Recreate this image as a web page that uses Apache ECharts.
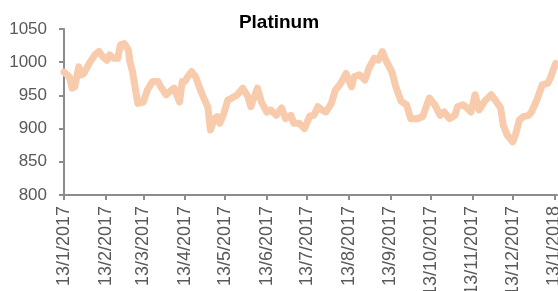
<!DOCTYPE html>
<html>
<head>
<meta charset="utf-8">
<script src="https://cdn.jsdelivr.net/npm/echarts@6/dist/echarts.min.js"></script>
<style>
  html, body { margin: 0; padding: 0; background: #fff; }
  #chart { width: 558px; height: 291px; }
</style>
</head>
<body>
<div id="chart"></div>
<script>
// daily points
var dates = [
  '2017-01-13', '2017-01-17', '2017-01-19', '2017-01-21', '2017-01-24', '2017-01-26', '2017-01-28',
  '2017-02-01', '2017-02-05', '2017-02-08', '2017-02-11', '2017-02-14', '2017-02-16', '2017-02-19',
  '2017-02-22', '2017-02-24', '2017-02-27', '2017-03-02', '2017-03-03', '2017-03-05', '2017-03-07',
  '2017-03-09', '2017-03-13', '2017-03-16', '2017-03-20', '2017-03-24', '2017-03-26', '2017-03-30',
  '2017-04-03', '2017-04-05', '2017-04-09', '2017-04-11', '2017-04-13', '2017-04-15', '2017-04-18',
  '2017-04-21', '2017-04-24', '2017-04-27', '2017-04-30', '2017-05-02', '2017-05-05', '2017-05-07',
  '2017-05-09', '2017-05-12', '2017-05-15', '2017-05-18', '2017-05-22', '2017-05-26', '2017-05-30',
  '2017-06-01', '2017-06-06', '2017-06-09', '2017-06-13', '2017-06-16', '2017-06-20', '2017-06-24',
  '2017-06-27', '2017-07-01', '2017-07-03', '2017-07-07', '2017-07-11', '2017-07-15', '2017-07-18',
  '2017-07-21', '2017-07-24', '2017-07-27', '2017-07-31', '2017-08-03', '2017-08-07', '2017-08-11',
  '2017-08-15', '2017-08-17', '2017-08-21', '2017-08-25', '2017-08-28', '2017-09-01', '2017-09-04',
  '2017-09-07', '2017-09-10', '2017-09-14', '2017-09-17', '2017-09-21', '2017-09-25', '2017-09-28',
  '2017-10-03', '2017-10-07', '2017-10-11', '2017-10-12', '2017-10-16', '2017-10-20', '2017-10-23',
  '2017-10-27', '2017-10-31', '2017-11-02', '2017-11-06', '2017-11-09', '2017-11-12', '2017-11-15',
  '2017-11-18', '2017-11-22', '2017-11-27', '2017-11-30', '2017-12-04', '2017-12-06', '2017-12-09',
  '2017-12-13', '2017-12-15', '2017-12-18', '2017-12-21', '2017-12-25', '2017-12-27', '2017-12-31',
  '2018-01-04', '2018-01-08', '2018-01-10', '2018-01-13', '2018-01-14'
];
var prices = [
  985, 978, 961, 963, 993, 981, 984,
  999, 1011, 1016, 1008, 1003, 1011, 1006,
  1006, 1026, 1028, 1018, 1001, 986, 961,
  938, 940, 958, 971, 971, 963, 951,
  958, 961, 940, 971, 971, 978, 986,
  978, 961, 946, 933, 898, 915, 918,
  908, 923, 943, 946, 951, 961, 948,
  933, 961, 940, 925, 928, 920, 931,
  915, 920, 908, 908, 900, 919, 920,
  933, 928, 925, 938, 958, 968, 983,
  963, 978, 981, 973, 991, 1006, 1003,
  1016, 1001, 986, 963, 941, 936, 915,
  915, 918, 941, 946, 936, 920, 925,
  915, 920, 933, 936, 931, 925, 951,
  928, 941, 951, 943, 931, 905, 890,
  880, 890, 913, 918, 920, 925, 943,
  966, 968, 976, 993, 998
];
var tickDates = [
  '2017-01-13', '2017-02-13', '2017-03-13', '2017-04-13', '2017-05-13', '2017-06-13', '2017-07-13',
  '2017-08-13', '2017-09-13', '2017-10-13', '2017-11-13', '2017-12-13', '2018-01-13'
];

function toTime(s) {
  var p = s.split('-');
  return new Date(+p[0], +p[1] - 1, +p[2]).getTime();
}

var tickTimes = tickDates.map(toTime);
var seriesData = dates.map(function (d, i) { return [toTime(d), prices[i]]; });

var chart = echarts.init(document.getElementById('chart'));

var option = {
  animation: false,
  title: {
    text: 'Platinum',
    left: 'center',
    top: 8,
    textStyle: { fontFamily: 'Liberation Sans', fontSize: 19, fontWeight: 'bold', color: '#000' }
  },
  grid: { left: 64, right: 1, top: 29, bottom: 96, containLabel: false, outerBoundsMode: 'none' },
  xAxis: {
    type: 'value',
    min: toTime('2017-01-13'),
    max: toTime('2018-01-15'),
    axisLine: { lineStyle: { color: '#8c8c8c', width: 2 } },
    axisTick: { show: true, length: 5, customValues: tickTimes, lineStyle: { color: '#8c8c8c', width: 2 } },
    axisLabel: {
      customValues: tickTimes,
      rotate: 90,
      margin: 11,
      hideOverlap: false,
      color: '#595959',
      fontFamily: 'Liberation Sans',
      fontSize: 18,
      formatter: function (v) {
        var d = new Date(v);
        return d.getDate() + '/' + (d.getMonth() + 1) + '/' + d.getFullYear();
      }
    },
    splitLine: { show: false }
  },
  yAxis: {
    type: 'value',
    min: 800,
    max: 1050,
    interval: 50,
    axisLine: { show: true, lineStyle: { color: '#8c8c8c', width: 2 } },
    axisTick: { show: true, length: 5, lineStyle: { color: '#8c8c8c', width: 2 } },
    axisLabel: {
      color: '#595959', fontFamily: 'Liberation Sans', fontSize: 17, margin: 17,
      formatter: function (v) { return String(v); }
    },
    splitLine: { show: false }
  },
  series: [{
    type: 'line',
    data: seriesData,
    showSymbol: false,
    smooth: false,
    lineStyle: { color: '#f8cbad', width: 7, cap: 'round', join: 'round' }
  }]
};

chart.setOption(option);
</script>
</body>
</html>
